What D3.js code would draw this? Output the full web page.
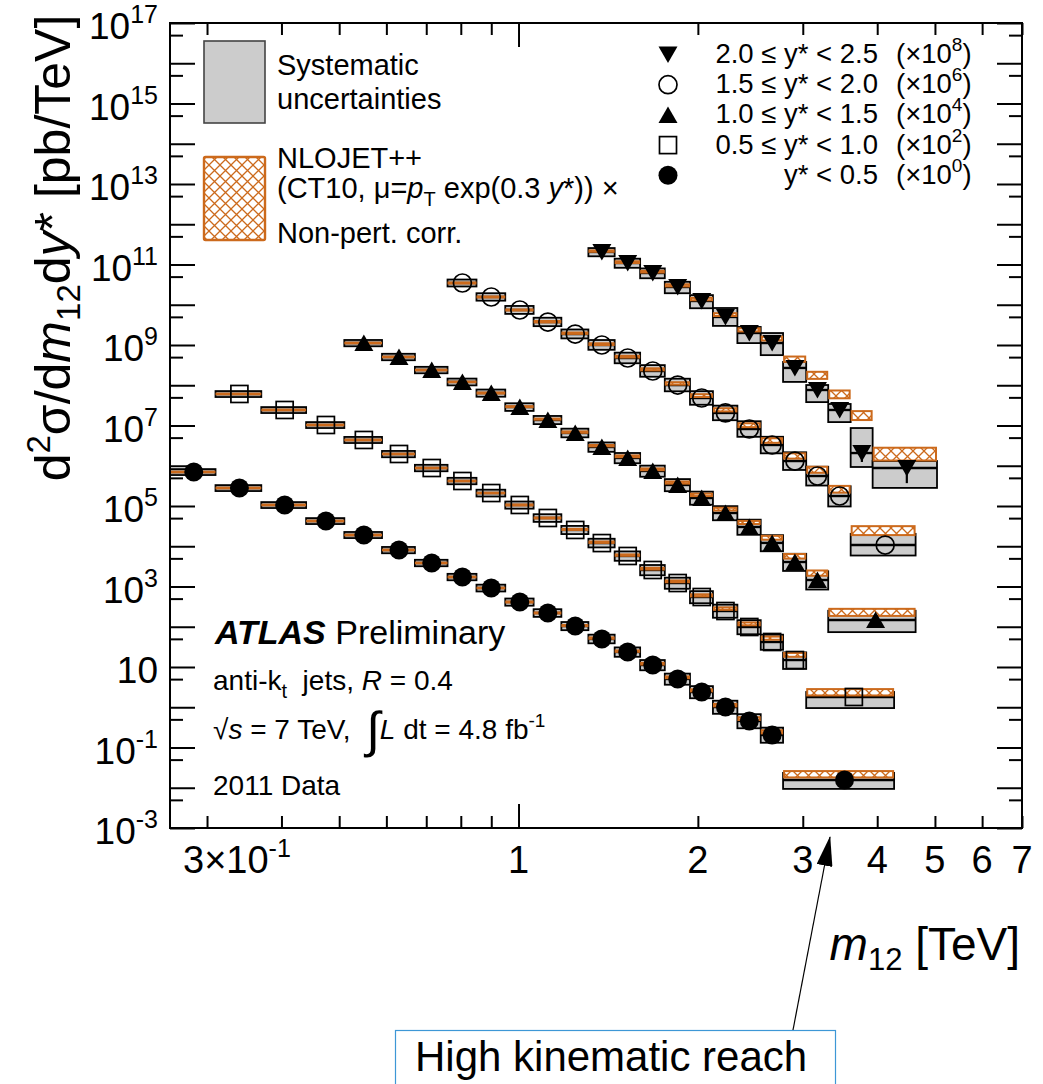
<!DOCTYPE html>
<html>
<head>
<meta charset="utf-8">
<script src="https://cdn.jsdelivr.net/npm/d3@7/dist/d3.min.js"></script>
<style>
body { margin: 0; background: #fff; }
svg { font-family: "Liberation Sans", Arial, Helvetica, sans-serif; }
</style>
</head>
<body>
<svg id="chart"></svg>
<script>
// bin edges (TeV) for each y* slice, the last bin is the merged high-mass bin
let edgesA = [0.26,0.31,0.37,0.44,0.51,0.59,0.67,0.76,0.85,0.95,1.06,1.18,1.31,1.45,1.60,1.76,1.94,2.12,2.33,2.55,2.78,4.27]
let edgesB = [0.31,0.37,0.44,0.51,0.59,0.67,0.76,0.85,0.95,1.06,1.18,1.31,1.45,1.60,1.76,1.94,2.12,2.33,2.55,2.78,3.04,4.27]
let edgesC = [0.51,0.59,0.67,0.76,0.85,0.95,1.06,1.18,1.31,1.45,1.60,1.76,1.94,2.12,2.33,2.55,2.78,3.04,3.31,4.64]
let edgesD = [0.76,0.85,0.95,1.06,1.18,1.31,1.45,1.60,1.76,1.94,2.12,2.33,2.55,2.78,3.04,3.31,3.61,4.64]
let edgesE = [1.31,1.45,1.60,1.76,1.94,2.12,2.33,2.55,2.78,3.04,3.31,3.61,3.93,5.04]

// measured cross sections [pb/TeV], before the legend scale factors
let valsA = [7.0e5,2.8e5,1.06e5,4.24e4,1.9e4,8.07e3,3.84e3,1.72e3,918,412,220,104,49.7,23.6,11.2,5.04,2.39,1.01,0.455,0.205,0.0156]
let valsB = [6.07e5,2.43e5,1.03e5,4.37e4,1.96e4,8.79e3,4.18e3,2.10e3,1.06e3,504,254,120,57.3,25.7,12.2,5.48,2.46,0.986,0.418,0.149,0.018]
let valsC = [1.12e5,5.04e4,2.39e4,1.21e4,6.41e3,2.88e3,1.37e3,652,292,156,74.1,33.3,15.8,6.70,3.01,1.21,0.406,0.145,0.0147]
let valsD = [3.47e4,1.56e4,7.41e3,3.72e3,1.87e3,1.0e3,475,226,101,48.2,20.5,8.18,3.28,1.31,0.556,0.177,0.0107]
let valsE = [2.05e3,1.09e3,615,276,124,49.7,19.9,11.2,2.69,0.762,0.243,0.0207,0.0088]

// systematic uncertainty, percent up / down
let sysUpA = [18,18,18,18,19,19,20,20,21,22,24,26,28,30,33,36,40,44,48,52,50]
let sysDnA = [16,16,16,16,16,17,17,17,18,19,20,21,22,24,26,28,30,32,34,36,40]
let sysUpB = [18,18,18,19,19,20,20,21,22,24,26,28,30,33,36,40,44,48,52,55,33]
let sysDnB = [16,16,16,16,17,17,17,18,19,20,21,22,24,26,28,30,32,34,36,40,47]
let sysUpC = [19,20,20,21,22,24,26,28,30,33,36,40,44,48,52,56,60,65,70]
let sysDnC = [17,17,17,18,19,20,21,22,24,26,28,30,32,34,36,38,40,42,50]
let sysUpD = [22,24,26,28,30,33,36,40,44,48,52,56,60,65,70,75,90]
let sysDnD = [18,19,20,21,22,24,26,28,30,32,34,36,38,40,42,45,45]
let sysUpE = [25,28,30,35,40,67,41,77,41,33,41,318,49]
let sysDnE = [22,24,26,30,34,40,44,50,55,50,50,55,68]

// NLOJET++ x non-pert. corr. : ratio to data and band half width (percent)
let theoA = [1,1,1,1,1,1,1,1,1,1,1,1.03,1.05,1.05,1.08,1.1,1.1,1.12,1.15,1.2,1.41]
let theoB = [1,1,1,1,1,1,1,1,1,1,1.03,1.05,1.05,1.08,1.1,1.1,1.15,1.2,1.25,1.35,1.33]
let theoC = [1,1,1,1,1,1.02,1.05,1.05,1.08,1.1,1.1,1.15,1.2,1.25,1.3,1.35,1.4,1.5,1.58]
let theoD = [1,1,1,1.02,1.05,1.05,1.08,1.1,1.1,1.15,1.2,1.25,1.3,1.35,1.45,1.5,2.36]
let theoE = [1.05,1.05,1.08,1.1,1.12,1.15,1.2,1.3,1.67,2.36,2.5,8.8,2.36]
let thUncA = [2,2,2,2,2,2,2,2,2,3,3,3,4,4,5,5,6,7,8,9,18]
let thUncB = [2,2,2,2,2,2,2,2,3,3,3,4,4,5,5,6,7,8,9,11,18]
let thUncC = [2,2,2,2,3,3,3,4,4,5,5,6,7,8,9,11,13,15,20]
let thUncD = [3,3,3,4,4,5,5,6,7,8,9,11,13,15,17,19,25]
let thUncE = [4,5,5,6,7,8,9,11,15,20,22,25,35]

// statistical error (percent), only visible in the last bins of the forward slice
let statE = [0,0,0,0,0,0,0,0,0,0,0,40,58]

let legendLabels = ['2.0 \u2264 y* < 2.5','1.5 \u2264 y* < 2.0','1.0 \u2264 y* < 1.5','0.5 \u2264 y* < 1.0','y* < 0.5']
let legendExp = [8,6,4,2,0]

let yLabelExp = [17,15,13,11,9,7,5,3,1,-1,-3]
let xMinorTicks = [0.3,0.4,0.5,0.6,0.7,0.8,0.9,2,3,4,5,6,7]
let xMajorTicks = [1]
let xLabelVals = [0.3,1,2,3,4,5,6,7]

let width = 1043
let height = 1084
let padL = 170, padR = 1022, padT = 23, padB = 828
let orange = '#cc6a1c'

let svg = d3.select('#chart').attr('width', width).attr('height', height)

let xscale = d3.scaleLog().domain([0.26, 7]).range([padL, padR])
let yscale = d3.scaleLog().domain([1e-3, 1e17]).range([padB, padT])

let defs = svg.append('defs')
let pat = defs.append('pattern').attr('id', 'hatch')
    .attr('patternUnits', 'userSpaceOnUse').attr('width', 11).attr('height', 11)
pat.append('rect').attr('width', 11).attr('height', 11).attr('fill', '#fff')
pat.append('path').attr('d', 'M-1,-1L12,12M12,-1L-1,12')
    .attr('stroke', orange).attr('stroke-width', 1.3)

let marker = defs.append('marker').attr('id', 'arrow')
    .attr('viewBox', '0 0 30 16').attr('refX', 29).attr('refY', 8)
    .attr('markerWidth', 30).attr('markerHeight', 16)
    .attr('markerUnits', 'userSpaceOnUse').attr('orient', 'auto')
marker.append('path').attr('d', 'M0,0L30,8L0,16Z').attr('fill', '#000')

let series = [
    {edges: edgesA, vals: valsA, up: sysUpA, dn: sysDnA, theo: theoA, thu: thUncA, scale: 1, shape: 'circle'},
    {edges: edgesB, vals: valsB, up: sysUpB, dn: sysDnB, theo: theoB, thu: thUncB, scale: 1e2, shape: 'square'},
    {edges: edgesC, vals: valsC, up: sysUpC, dn: sysDnC, theo: theoC, thu: thUncC, scale: 1e4, shape: 'triUp'},
    {edges: edgesD, vals: valsD, up: sysUpD, dn: sysDnD, theo: theoD, thu: thUncD, scale: 1e6, shape: 'openCircle'},
    {edges: edgesE, vals: valsE, up: sysUpE, dn: sysDnE, theo: theoE, thu: thUncE, scale: 1e8, shape: 'triDown', stat: statE}
]

let drawMarker = (g, shape, cx, cy) => {
    if (shape == 'circle') {
        g.append('circle').attr('cx', cx).attr('cy', cy).attr('r', 9.5).attr('fill', '#000')
    } else if (shape == 'openCircle') {
        g.append('circle').attr('cx', cx).attr('cy', cy).attr('r', 9)
            .attr('fill', 'none').attr('stroke', '#000').attr('stroke-width', 1.7)
    } else if (shape == 'square') {
        g.append('rect').attr('x', cx - 8.5).attr('y', cy - 8.5).attr('width', 17).attr('height', 17)
            .attr('fill', 'none').attr('stroke', '#000').attr('stroke-width', 1.7)
    } else if (shape == 'triUp') {
        g.append('path').attr('transform', 'translate(' + cx + ',' + cy + ')')
            .attr('d', 'M0,-8.5L9.5,8L-9.5,8Z').attr('fill', '#000')
    } else {
        g.append('path').attr('transform', 'translate(' + cx + ',' + cy + ')')
            .attr('d', 'M0,8.5L9.5,-8L-9.5,-8Z').attr('fill', '#000')
    }
}

let plot = svg.append('g')

series.forEach((s) => {
    let bins = s.vals.map((v, i) => ({
        lo: s.edges[i], hi: s.edges[i + 1], v: v * s.scale,
        up: s.up[i], dn: s.dn[i], t: v * s.scale * s.theo[i], tu: s.thu[i],
        st: s.stat ? s.stat[i] : 0
    }))
    let g = plot.append('g')
    // systematic boxes
    g.selectAll('.sys').data(bins).enter().append('rect')
        .attr('x', (d) => xscale(d.lo))
        .attr('width', (d) => xscale(d.hi) - xscale(d.lo))
        .attr('y', (d) => yscale(d.v * (1 + d.up / 100)))
        .attr('height', (d) => yscale(d.v * (1 - d.dn / 100)) - yscale(d.v * (1 + d.up / 100)))
        .attr('fill', '#cccccc').attr('stroke', '#000').attr('stroke-width', 1.8)
    // data bin-width bars
    g.selectAll('.bar').data(bins).enter().append('line')
        .attr('x1', (d) => xscale(d.lo)).attr('x2', (d) => xscale(d.hi))
        .attr('y1', (d) => yscale(d.v)).attr('y2', (d) => yscale(d.v))
        .attr('stroke', '#000').attr('stroke-width', 2.4)
    // theory band
    g.selectAll('.theo').data(bins).enter().append('rect')
        .attr('x', (d) => xscale(d.lo) + 1)
        .attr('width', (d) => xscale(d.hi) - xscale(d.lo) - 2)
        .attr('y', (d) => yscale(d.t * (1 + d.tu / 100)))
        .attr('height', (d) => yscale(d.t * (1 - d.tu / 100)) - yscale(d.t * (1 + d.tu / 100)))
        .attr('fill', 'url(#hatch)').attr('stroke', orange).attr('stroke-width', 2)
    // statistical errors
    g.selectAll('.stat').data(bins.filter((d) => d.st > 0)).enter().append('line')
        .attr('x1', (d) => xscale((d.lo + d.hi) / 2)).attr('x2', (d) => xscale((d.lo + d.hi) / 2))
        .attr('y1', (d) => yscale(d.v * (1 + d.st / 100))).attr('y2', (d) => yscale(d.v * (1 - d.st / 100)))
        .attr('stroke', '#000').attr('stroke-width', 2.2)
    bins.forEach((d) => drawMarker(g, s.shape, xscale((d.lo + d.hi) / 2), yscale(d.v)))
})

// axes: ticks only, labels drawn separately
let decades = d3.range(-3, 18).map((e) => Math.pow(10, e))
let fives = d3.range(-3, 17).map((e) => 5 * Math.pow(10, e))

let addAxis = (axis, tr) => {
    let g = svg.append('g').attr('transform', tr).call(axis)
    g.select('.domain').remove()
    g.selectAll('.tick text').remove()
    g.selectAll('.tick line').attr('stroke', '#000').attr('stroke-width', 2)
}
addAxis(d3.axisBottom(xscale).tickValues(xMinorTicks).tickSize(-12), 'translate(0,' + padB + ')')
addAxis(d3.axisBottom(xscale).tickValues(xMajorTicks).tickSize(-24), 'translate(0,' + padB + ')')
addAxis(d3.axisTop(xscale).tickValues(xMinorTicks).tickSize(-12), 'translate(0,' + padT + ')')
addAxis(d3.axisTop(xscale).tickValues(xMajorTicks).tickSize(-24), 'translate(0,' + padT + ')')
addAxis(d3.axisLeft(yscale).tickValues(decades).tickSize(-25), 'translate(' + padL + ',0)')
addAxis(d3.axisLeft(yscale).tickValues(fives).tickSize(-13), 'translate(' + padL + ',0)')
addAxis(d3.axisRight(yscale).tickValues(decades).tickSize(-25), 'translate(' + padR + ',0)')
addAxis(d3.axisRight(yscale).tickValues(fives).tickSize(-13), 'translate(' + padR + ',0)')

svg.append('rect').attr('x', padL).attr('y', padT)
    .attr('width', padR - padL).attr('height', padB - padT)
    .attr('fill', 'none').attr('stroke', '#000').attr('stroke-width', 2)

// y tick labels
yLabelExp.forEach((e) => {
    let t = svg.append('text').attr('x', 158).attr('y', yscale(Math.pow(10, e)) + 16)
        .attr('text-anchor', 'end').attr('font-size', 37)
    t.append('tspan').text('10')
    if (e != 1) {
        t.append('tspan').attr('dy', -16).attr('font-size', 25).text(e)
    }
})

// x tick labels
xLabelVals.forEach((v) => {
    let t = svg.append('text').attr('y', 873).attr('font-size', 38)
    if (v < 1) {
        t.attr('x', 183).attr('text-anchor', 'start')
        t.append('tspan').text('3\u00d710')
        t.append('tspan').attr('dy', -16).attr('font-size', 25).text('-1')
    } else {
        t.attr('x', xscale(v)).attr('text-anchor', 'middle').text(v)
    }
})

// axis titles
let yt = svg.append('text').attr('transform', 'translate(70,248) rotate(-90)')
    .attr('text-anchor', 'middle').attr('font-size', 50)
yt.append('tspan').text('d')
yt.append('tspan').attr('dy', -20).attr('font-size', 33).text('2')
yt.append('tspan').attr('dy', 20).text('\u03c3/d')
yt.append('tspan').attr('font-style', 'italic').text('m')
yt.append('tspan').attr('dy', 10).attr('font-size', 33).text('12')
yt.append('tspan').attr('dy', -10).text('d')
yt.append('tspan').attr('font-style', 'italic').text('y')
yt.append('tspan').text('* [pb/TeV]')

let xt = svg.append('text').attr('x', 1020).attr('y', 960)
    .attr('text-anchor', 'end').attr('font-size', 46)
xt.append('tspan').attr('font-style', 'italic').text('m')
xt.append('tspan').attr('dy', 10).attr('font-size', 31).text('12')
xt.append('tspan').attr('dy', -10).text(' [TeV]')

// legend, left
svg.append('rect').attr('x', 204).attr('y', 41).attr('width', 61).attr('height', 82)
    .attr('fill', '#cccccc').attr('stroke', '#444').attr('stroke-width', 1.6)
svg.append('rect').attr('x', 204).attr('y', 157).attr('width', 61).attr('height', 83).attr('rx', 1.5)
    .attr('fill', 'url(#hatch)').attr('stroke', orange).attr('stroke-width', 2.4)
let legText = (x, y, size) => svg.append('text').attr('x', x).attr('y', y).attr('font-size', size)
legText(277, 75, 29).text('Systematic')
legText(277, 109, 29).text('uncertainties')
legText(277, 168, 29).text('NLOJET++')
let nl = legText(277, 198, 29)
nl.append('tspan').text('(CT10, \u03bc=')
nl.append('tspan').attr('font-style', 'italic').text('p')
nl.append('tspan').attr('dy', 8).attr('font-size', 20).text('T')
nl.append('tspan').attr('dy', -8).text(' exp(0.3 ')
nl.append('tspan').attr('font-style', 'italic').text('y')
nl.append('tspan').text('*)) \u00d7')
legText(277, 243, 29).text('Non-pert. corr.')

// legend, right
let shapesInLegend = ['triDown', 'openCircle', 'triUp', 'square', 'circle']
legendLabels.forEach((lab, i) => {
    let base = 63 + i * 30.2
    drawMarker(svg, shapesInLegend[i], 668, base - 8.5)
    svg.append('text').attr('x', 878).attr('y', base).attr('text-anchor', 'end')
        .attr('font-size', 27.5).text(lab)
    let f = svg.append('text').attr('x', 896).attr('y', base).attr('font-size', 27.5)
    f.append('tspan').text('(\u00d710')
    f.append('tspan').attr('dy', -12).attr('font-size', 19).text(legendExp[i])
    f.append('tspan').attr('dy', 12).text(')')
})

// ATLAS label block
let at = legText(215, 644, 34)
at.append('tspan').attr('font-weight', 'bold').attr('font-style', 'italic').text('ATLAS')
at.append('tspan').text(' Preliminary')
let l2 = legText(213, 690, 28)
l2.append('tspan').text('anti-k')
l2.append('tspan').attr('dy', 8).attr('font-size', 20).text('t')
l2.append('tspan').attr('dy', -8).text('\u00a0 jets, ')
l2.append('tspan').attr('font-style', 'italic').text('R')
l2.append('tspan').text(' = 0.4')
let l3 = legText(213, 739, 28)
l3.append('tspan').text('\u221a')
l3.append('tspan').attr('font-style', 'italic').text('s')
l3.append('tspan').text(' = 7 TeV, \u00a0')
l3.append('tspan').attr('font-size', 50).attr('dy', 8).text('\u222b')
l3.append('tspan').attr('font-style', 'italic').attr('dy', -8).text('L')
l3.append('tspan').text(' dt = 4.8 fb')
l3.append('tspan').attr('dy', -12).attr('font-size', 19).text('-1')
legText(213, 795, 28).text('2011 Data')

// annotation
svg.append('rect').attr('x', 395.5).attr('y', 1030.5).attr('width', 440).attr('height', 80)
    .attr('fill', '#fff').attr('stroke', '#3d97d6').attr('stroke-width', 1.2)
svg.append('text').attr('x', 415).attr('y', 1071).attr('font-size', 42).text('High kinematic reach')
svg.append('line').attr('x1', 793).attr('y1', 1030).attr('x2', 830).attr('y2', 837)
    .attr('stroke', '#000').attr('stroke-width', 1.2).attr('marker-end', 'url(#arrow)')
</script>
</body>
</html>
